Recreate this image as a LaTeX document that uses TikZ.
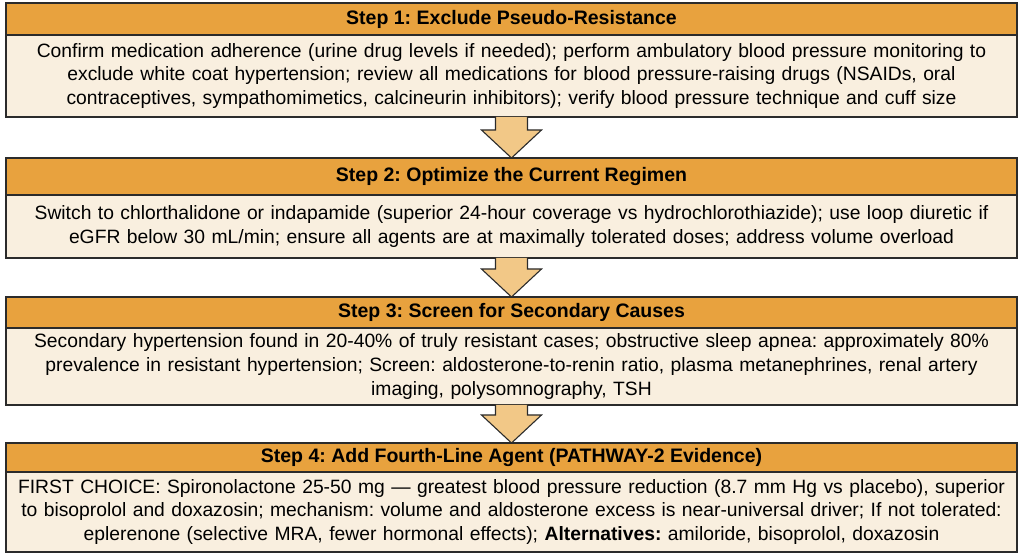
\documentclass[tikz,border=0pt]{standalone}
\usepackage{fontspec}
\setmainfont{Liberation Sans}
\usetikzlibrary{positioning,calc}
\definecolor{headorange}{HTML}{E8A23E}
\definecolor{bodycream}{HTML}{F9EFDF}
\definecolor{arrowfill}{HTML}{F2C887}
\definecolor{edgegray}{HTML}{2B2B2B}
\frenchspacing
\tikzset{
  stephead/.style={draw=edgegray, line width=1.3pt, fill=headorange, minimum width=1011pt,
    inner sep=0pt, outer sep=0pt, font=\bfseries\fontsize{19.5}{22}\selectfont},
  stepbody/.style={draw=edgegray, line width=1.3pt, fill=bodycream, minimum width=1011pt,
    text width=1008pt, align=center, inner sep=0pt, outer sep=0pt,
    font=\fontsize{19.3}{23.6}\selectfont},
  flowarrow/.style={draw=edgegray, line width=1.1pt, fill=arrowfill, line join=miter}
}
\begin{document}
\begin{tikzpicture}[x=1pt,y=1pt]
\useasboundingbox (0,0) rectangle (1024,559);
\fill[white] (0,0) rectangle (1024,559);

\node[stephead, minimum height=32pt, anchor=north] (s1h) at (511.5,556) {Step 1: Exclude Pseudo-Resistance};
\node[stepbody, minimum height=82pt, below=0pt of s1h] (s1b) {Confirm medication adherence (urine drug levels if needed); perform ambulatory blood pressure monitoring to\\
exclude white coat hypertension; review all medications for blood pressure-raising drugs (NSAIDs, oral\\
contraceptives, sympathomimetics, calcineurin inhibitors); verify blood pressure technique and cuff size};

\node[stephead, minimum height=37pt, below=41pt of s1b] (s2h) {Step 2: Optimize the Current Regimen};
\node[stepbody, minimum height=63pt, below=0pt of s2h] (s2b) {Switch to chlorthalidone or indapamide (superior 24-hour coverage vs hydrochlorothiazide); use loop diuretic if\\
eGFR below 30 mL/min; ensure all agents are at maximally tolerated doses; address volume overload};

\node[stephead, minimum height=31pt, below=39pt of s2b] (s3h) {Step 3: Screen for Secondary Causes};
\node[stepbody, minimum height=77pt, below=0pt of s3h] (s3b) {Secondary hypertension found in 20-40\% of truly resistant cases; obstructive sleep apnea: approximately 80\%\\
prevalence in resistant hypertension; Screen: aldosterone-to-renin ratio, plasma metanephrines, renal artery\\
imaging, polysomnography, TSH};

\node[stephead, minimum height=29pt, below=38pt of s3b] (s4h) {Step 4: Add Fourth-Line Agent (PATHWAY-2 Evidence)};
\node[stepbody, minimum height=80pt, below=0pt of s4h] (s4b) {FIRST CHOICE: Spironolactone 25-50 mg — greatest blood pressure reduction (8.7 mm Hg vs placebo), superior\\
to bisoprolol and doxazosin; mechanism: volume and aldosterone excess is near-universal driver; If not tolerated:\\
eplerenone (selective MRA, fewer hormonal effects); \textbf{Alternatives:} amiloride, bisoprolol, doxazosin};

% block arrows between the steps
\foreach \a/\b in {s1b/s2h, s2b/s3h, s3b/s4h}{
  \draw[flowarrow] ($(\a.south)+(-16,0)$) -- ($(\b.north)+(-16,28)$) -- ($(\b.north)+(-30,28)$)
    -- (\b.north) -- ($(\b.north)+(30,28)$) -- ($(\b.north)+(16,28)$) -- ($(\a.south)+(16,0)$);
}
\end{tikzpicture}
\end{document}
